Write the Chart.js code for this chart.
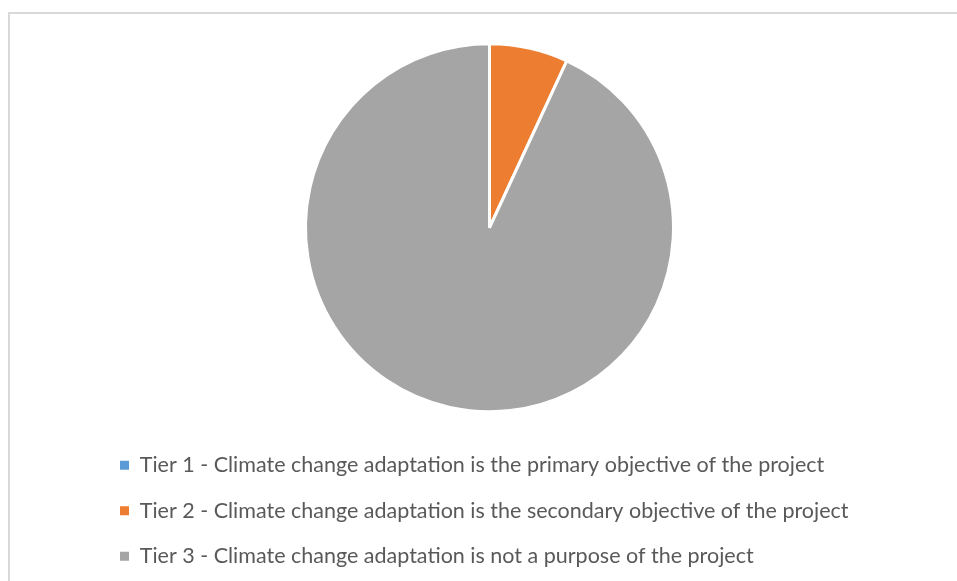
<!DOCTYPE html>
<html>
<head>
<meta charset="utf-8">
<script src="https://cdn.jsdelivr.net/npm/chart.js@4/dist/chart.umd.min.js"></script>
<style>
  html, body { margin: 0; padding: 0; background: #fff; overflow: hidden; }
  #frame {
    position: absolute; left: 8px; top: 12px; width: 1000px; height: 600px;
    border-left: 2px solid #d9d9d9; border-top: 2px solid #d9d9d9;
  }
  #tierChart { position: absolute; left: 0; top: 0; }
</style>
</head>
<body>
<div id="frame"></div>
<canvas id="tierChart" width="957" height="581"></canvas>
<script>
// TIER DATA (share of projects, %)
const tierLabels = [
  "Tier 1 - Climate change adaptation is the primary objective of the project",
  "Tier 2 - Climate change adaptation is the secondary objective of the project",
  "Tier 3 - Climate change adaptation is not a purpose of the project"
];
const tierValues = [0, 6.9, 93.1];
const tierColors = ["#5b9bd5", "#ed7d31", "#a5a5a5"];

// default pie legend items, but without the white slice border on the boxes
function legendItems(chart) {
  const base = Chart.overrides.pie.plugins.legend.labels.generateLabels(chart);
  return base.map(item => ({ ...item, lineWidth: 0, strokeStyle: "transparent" }));
}

new Chart(document.getElementById("tierChart"), {
  type: "pie",
  data: {
    labels: tierLabels,
    datasets: [{
      data: tierValues,
      backgroundColor: tierColors,
      borderColor: "#ffffff",
      borderWidth: 3,
      radius: 184
    }]
  },
  options: {
    responsive: false,
    animation: false,
    layout: { padding: { top: 25, left: 96, right: 74, bottom: 4 } },
    plugins: {
      tooltip: { enabled: false },
      legend: {
        position: "bottom",
        align: "start",
        labels: {
          boxWidth: 9,
          boxHeight: 9,
          padding: 24,
          color: "#595959",
          font: { family: "Lato", size: 21.5 },
          generateLabels: legendItems
        }
      }
    }
  }
});
</script>
</body>
</html>
